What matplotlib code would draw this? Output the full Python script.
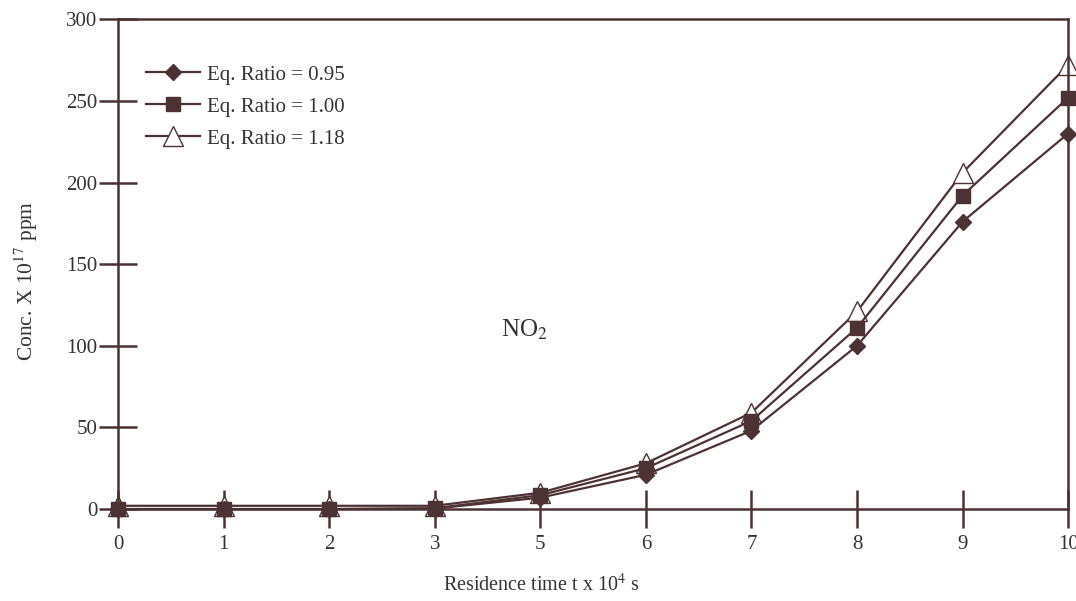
import matplotlib
matplotlib.use('Agg')
import matplotlib.pyplot as plt

# residence time categories (x 10^4 s), plotted evenly spaced
times = ["0", "1", "2", "3", "5", "6", "7", "8", "9", "10"]
ratio_095 = [0, 0, 0, 0.3, 7, 21, 48, 100, 176, 230]
ratio_100 = [0, 0, 0, 0.5, 8.5, 25, 54, 111, 192, 252]
ratio_118 = [2, 2, 2, 2, 10, 28, 59, 121, 206, 272]
yticks = [0, 50, 100, 150, 200, 250, 300]

plt.rcParams['font.family'] = ['Liberation Serif', 'DejaVu Serif']
plt.rcParams['mathtext.fontset'] = 'stix'

ink = '#4d3233'
txt = '#333333'
fig = plt.figure(figsize=(10.76, 6.01), dpi=100)
ax = fig.add_axes([0.1097, 0.153, 0.883, 0.815])

x = list(range(len(times)))
ax.plot(x, ratio_095, color=ink, lw=1.6, marker='D', ms=8,
        mfc=ink, mec=ink, label='Eq. Ratio = 0.95', zorder=3, clip_on=False)
ax.plot(x, ratio_100, color=ink, lw=1.6, marker='s', ms=10,
        mfc=ink, mec=ink, label='Eq. Ratio = 1.00', zorder=3, clip_on=False)
ax.plot(x, ratio_118, color=ink, lw=1.6, marker='^', ms=14,
        mfc='white', mec=ink, mew=1.0, label='Eq. Ratio = 1.18', zorder=2,
        clip_on=False)

ax.set_xlim(0, len(times) - 1)
ax.set_ylim(0, 300)
ax.set_xticks(x)
ax.set_xticklabels(times)
ax.set_yticks(yticks)

for s in ax.spines.values():
    s.set_color(ink)
    s.set_linewidth(1.8)
ax.tick_params(direction='inout', length=28, width=1.8, color=ink,
               labelsize=15, labelcolor=txt, pad=1)
ax.tick_params(axis='x', pad=5)

ax.set_xlabel('Residence time t x 10$^4$ s', fontsize=14.5, color=txt)
ax.set_ylabel('Conc. X 10$^{17}$ ppm', fontsize=15.5, color=txt)
ax.xaxis.set_label_coords(0.446, -0.133)
ax.yaxis.set_label_coords(-0.082, 0.465)

ax.text(3.85, 110, 'NO$_2$', fontsize=18, color=txt, ha='center', va='center')

ax.legend(loc='upper left', bbox_to_anchor=(0.01, 0.945), frameon=False,
          fontsize=15, handlelength=2.6, labelspacing=0.6,
          handletextpad=0.3, labelcolor=txt)

fig.savefig('out.png', dpi=100)
